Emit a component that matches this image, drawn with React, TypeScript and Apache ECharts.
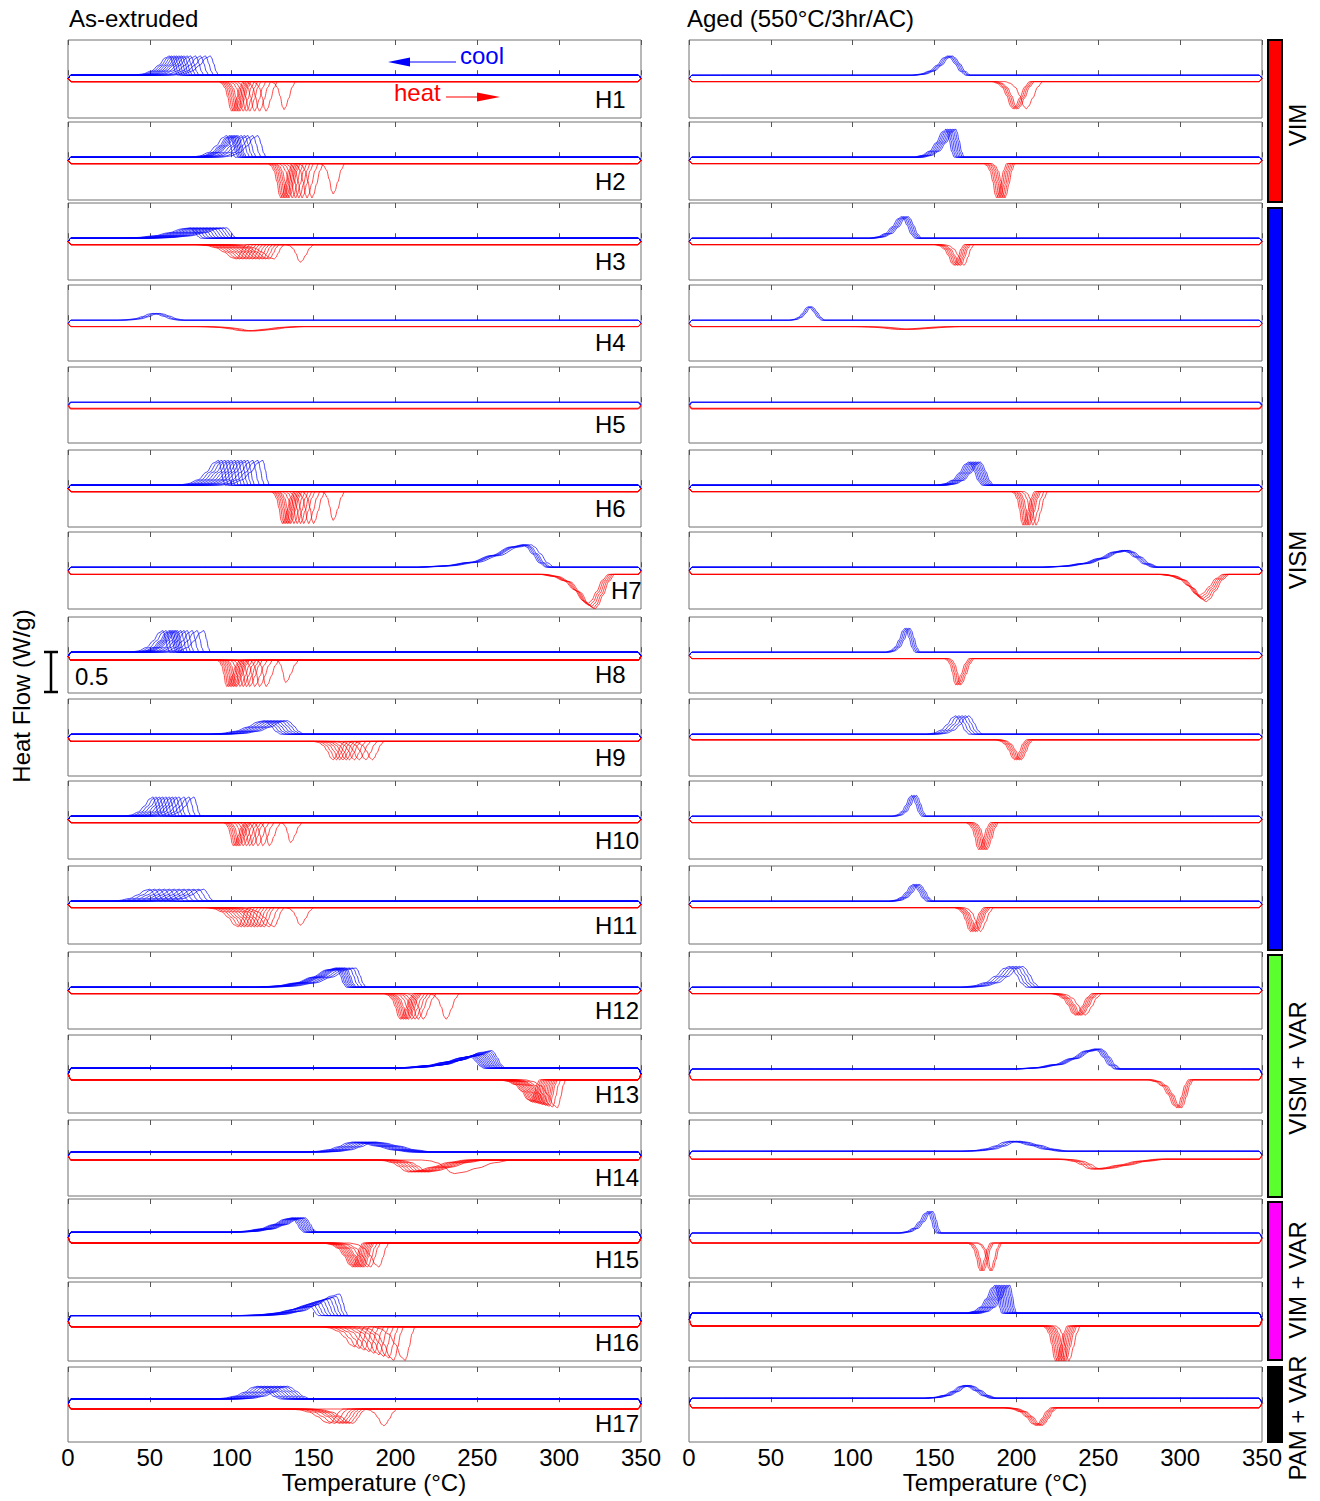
import React, { useEffect, useRef } from "react";
import * as echarts from "echarts";

// ---------------- data ----------------
const SAMPLES = ["H1", "H2", "H3", "H4", "H5", "H6", "H7", "H8", "H9", "H10", "H11", "H12", "H13", "H14", "H15", "H16", "H17"];
const T_MIN = 0;
const T_MAX = 350;
const T_STEP = 50;

// normalised peak profile [fraction of half-width, fraction of peak height]
const PEAK_PROFILE = [[-1, 0], [-0.75, 0.06], [-0.5, 0.22], [-0.3, 0.52], [-0.12, 0.9], [0, 1], [0.15, 0.9], [0.4, 0.6], [0.7, 0.2], [1, 0]];

// ---- As-extruded: cooling (exothermic) peak temperatures per cycle, °C
const EXT_COOL_T = [
  [62, 63.5, 65, 66.5, 68, 69.5, 71, 73, 75, 78, 81, 84, 87],
  [97, 99, 100, 101, 102, 103, 104, 106, 108, 110, 113, 116],
  [75, 77, 79, 81, 83, 85, 87, 89, 91, 93, 95, 97],
  [52, 54, 56],
  [],
  [92, 94, 96, 98, 100, 102, 104, 106, 108, 110, 113, 116, 119],
  [278, 279, 280, 281, 283],
  [58, 60, 62, 63, 64, 65, 66, 67, 69, 71, 73, 76, 79, 83],
  [120, 122, 124, 126, 128, 130, 132, 134],
  [52, 54, 56, 58, 60, 62, 64, 66, 68, 71, 74, 77],
  [50, 53, 56, 59, 62, 65, 68, 71, 74, 77, 80, 83],
  [164, 165, 166, 167, 168, 169, 170, 172, 174, 176],
  [246, 247, 248, 249, 250, 251, 252, 253, 254, 255, 256, 257, 258, 259],
  [174, 176, 178, 180, 182, 184, 186, 188],
  [137, 138, 139, 140, 141, 142, 143, 144, 145],
  [148, 150, 152, 154, 156, 158, 160, 162, 164, 166],
  [116, 118, 120, 122, 124, 126, 128, 130, 132, 134],
];
const EXT_COOL_H = [0.24, 0.27, 0.13, 0.085, 0, 0.31, 0.28, 0.27, 0.17, 0.24, 0.15, 0.24,
  [0.14, 0.145, 0.15, 0.15, 0.155, 0.16, 0.165, 0.17, 0.175, 0.18, 0.19, 0.2, 0.21, 0.22],
  0.125, 0.18,
  [0.12, 0.14, 0.155, 0.17, 0.185, 0.2, 0.21, 0.225, 0.24, 0.27],
  0.16];
const EXT_COOL_WL = [22, 22, 45, 22, 0, 25, 65, 20, 35, 18, 25, 50, 55, 30, 40, 45, 28];
const EXT_COOL_WR = [5, 5, 6, 15, 0, 4, 14, 4, 10, 4, 6, 6, 8, 35, 7, 5, 14];

// ---- As-extruded: heating (endothermic) peak temperatures per cycle, °C
const EXT_HEAT_T = [
  [100, 101, 102, 103, 104, 105, 107, 109, 111, 114, 117, 121, 132],
  [130, 131, 132, 133, 134, 135, 137, 139, 141, 143, 146, 149, 162],
  [103, 105, 107, 109, 111, 113, 115, 117, 119, 121, 123, 126, 142],
  [108, 111, 114],
  [],
  [131, 132, 133, 134, 135, 136, 138, 140, 142, 144, 147, 150, 162],
  [318, 319, 320, 321, 322],
  [97, 98, 99, 100, 101, 102, 103, 105, 107, 109, 111, 114, 117, 121, 133],
  [162, 164, 166, 168, 170, 172, 175, 178, 182, 186],
  [101, 102, 103, 104, 105, 107, 109, 111, 113, 116, 119, 123, 136],
  [104, 106, 108, 110, 112, 114, 116, 118, 120, 123, 126, 142],
  [203, 204, 205, 206, 207, 208, 210, 212, 214, 217, 231],
  [283, 284, 285, 286, 287, 288, 289, 290, 291, 292, 293, 294, 296, 299],
  [208, 210, 212, 214, 216, 218, 220, 236],
  [174, 175, 176, 177, 178, 179, 180, 181, 183, 185, 190],
  [175, 178, 181, 184, 187, 190, 193, 196, 199, 206],
  [160, 163, 166, 168, 170, 172, 174, 193],
];
const EXT_HEAT_D = [
  [0.37, 0.37, 0.37, 0.37, 0.37, 0.37, 0.37, 0.37, 0.37, 0.37, 0.37, 0.37, 0.35],
  [0.43, 0.43, 0.43, 0.43, 0.43, 0.43, 0.43, 0.43, 0.43, 0.43, 0.43, 0.43, 0.38],
  [0.18, 0.18, 0.18, 0.18, 0.18, 0.18, 0.18, 0.18, 0.18, 0.18, 0.18, 0.18, 0.22],
  0.055, 0,
  [0.4, 0.4, 0.4, 0.4, 0.4, 0.4, 0.4, 0.4, 0.4, 0.4, 0.4, 0.4, 0.36],
  [0.36, 0.38, 0.4, 0.42, 0.43],
  [0.33, 0.33, 0.33, 0.33, 0.33, 0.33, 0.33, 0.33, 0.33, 0.33, 0.33, 0.33, 0.33, 0.33, 0.28],
  0.23,
  [0.29, 0.29, 0.29, 0.29, 0.29, 0.29, 0.29, 0.29, 0.29, 0.29, 0.29, 0.29, 0.25],
  [0.24, 0.24, 0.24, 0.24, 0.24, 0.24, 0.24, 0.24, 0.24, 0.24, 0.24, 0.22],
  0.32,
  [0.27, 0.28, 0.28, 0.29, 0.29, 0.3, 0.3, 0.31, 0.31, 0.32, 0.32, 0.33, 0.34, 0.35],
  [0.15, 0.15, 0.15, 0.15, 0.15, 0.15, 0.15, 0.17],
  0.3,
  [0.25, 0.27, 0.29, 0.31, 0.33, 0.35, 0.37, 0.39, 0.42, 0.42],
  [0.18, 0.18, 0.18, 0.18, 0.18, 0.18, 0.18, 0.21],
];
const EXT_HEAT_WL = [8, 8,
  [25, 25, 25, 25, 25, 25, 25, 25, 25, 25, 25, 25, 9],
  30, 0, 7, 30, 6, 12, 6,
  [20, 20, 20, 20, 20, 20, 20, 20, 20, 20, 20, 9],
  10, 20, 20, 18, 20,
  [25, 25, 25, 25, 25, 25, 25, 12]];
const EXT_HEAT_WR = [7, 7, [6, 6, 6, 6, 6, 6, 6, 6, 6, 6, 6, 6, 8], 30, 0, 7, 12, 8, 7, 7,
  [6, 6, 6, 6, 6, 6, 6, 6, 6, 6, 6, 8], 8, 5, 35, 6, 6, 8];

// ---- Aged (550°C/3hr/AC)
const AGED_COOL_T = [
  [158, 159, 160, 161],
  [157, 158, 159, 160, 161, 162, 163],
  [130, 131, 132, 133, 134],
  [73, 74, 75],
  [],
  [171, 172, 173, 174, 175, 176, 177, 178],
  [265, 266, 267, 268, 269],
  [132, 133, 134, 135],
  [163, 165, 167, 169, 171],
  [136, 137, 138, 139],
  [137, 138, 139, 140, 141],
  [196, 198, 200, 202, 204],
  [248, 249, 250, 251, 252],
  [196, 198, 200, 202],
  [146, 147, 148, 149],
  [187, 188, 189, 190, 191, 192, 193, 194, 195, 196],
  [168, 169, 170, 171, 172],
];
const AGED_COOL_H = [0.24, 0.35, 0.27, 0.17, 0, 0.29, 0.21, 0.3, 0.23, 0.26, 0.21, 0.26, 0.25, 0.125, 0.27, 0.35, 0.16];
const AGED_COOL_WL = [22, 20, 20, 12, 0, 20, 50, 12, 18, 12, 15, 30, 50, 30, 18, 18, 25];
const AGED_COOL_WR = [11, 5, 8, 8, 0, 8, 18, 6, 8, 6, 8, 10, 12, 30, 5, 4, 16];

const AGED_HEAT_T = [
  [198, 199, 200, 201, 206],
  [188, 189, 190, 191, 192, 193],
  [162, 163, 164, 165, 166, 168],
  [128, 132, 136],
  [],
  [204, 205, 206, 207, 208, 210, 212],
  [312, 313, 314, 315, 316],
  [163, 164, 165, 166],
  [199, 200, 201, 202, 203],
  [177, 178, 179, 180, 181, 182],
  [172, 173, 174, 175, 176, 178],
  [236, 237, 238, 239, 240, 242],
  [298, 299, 300, 301],
  [246, 248, 250, 252],
  [178, 179, 180, 184, 185],
  [224, 225, 226, 227, 228, 229, 230, 232],
  [212, 213, 214, 215, 216],
];
const AGED_HEAT_D = [0.34, 0.43, 0.26, 0.035, 0, 0.42, [0.26, 0.28, 0.3, 0.32, 0.34], 0.33, 0.25, 0.34, 0.3, 0.27, 0.35, 0.125, 0.35, 0.44, 0.22];
const AGED_HEAT_WL = [13, 8, 12, 30, 0, 7, 25, 7, 12, 8, 10, 15, 18, 22, 8, 8, 20];
const AGED_HEAT_WR = [10, 6, 6, 30, 0, 7, 14, 8, 7, 7, 8, 10, 7, 40, 6, 7, 9];

// baselines (W/g) of cooling and heating curves in each panel
const EXT_COOL_BASE = [0, 0, 0, 0, 0, 0, 0, 0, 0, 0, 0, 0, 0.025, 0.04, 0.025, 0.02, 0.04];
const EXT_HEAT_BASE = [-0.08, -0.08, -0.08, -0.08, -0.08, -0.08, -0.09, -0.1, -0.09, -0.08, -0.08, -0.08, -0.12, -0.06, -0.11, -0.12, -0.085];
const AGED_COOL_BASE = [0, 0, 0, 0, 0, 0, 0, 0, 0, 0, 0, 0, 0.015, 0.05, 0.015, 0.05, 0.05];
const AGED_HEAT_BASE = [-0.08, -0.08, -0.08, -0.08, -0.08, -0.08, -0.09, -0.08, -0.07, -0.08, -0.08, -0.08, -0.12, -0.05, -0.11, -0.11, -0.07];

const GROUPS = ["VIM", "VISM", "VISM + VAR", "VIM + VAR", "PAM + VAR"];
const SCALE_BAR_WG = 0.5;

// ---------------- layout ----------------
const ROW_TOP = [40, 122, 203, 285, 367, 450, 532, 617, 699, 781, 866, 952, 1035, 1120, 1199, 1282, 1367];
const ROW_BOTTOM = [118, 200, 280, 361, 443, 527, 609, 693, 776, 859, 944, 1029, 1113, 1196, 1278, 1361, 1442];
const COL_LEFT = [68, 689];
const PLOT_W = 573;
const PX_PER_WG = 80;
const Y_TOP = 0.44;
const LABEL_X = [595, 595, 595, 595, 595, 595, 611, 595, 595, 595, 595, 595, 595, 595, 595, 595, 595];
const GROUP_BARS = [[40, 202], [208, 950], [955, 1197], [1202, 1360], [1367, 1442]];
const GROUP_COLORS = ["#ff0000", "#0000ff", "#5cff2e", "#ff00ff", "#000000"];
const FONT = "Liberation Sans, Arial, sans-serif";
const FS = 24;

const pick = (v: any, i: number) => (typeof v === "number" ? v : v[i]);

function buildCurve(T: number | null, amp: number, wl: number, wr: number, base: number, mid: number, sign: number) {
  const pts: number[][] = [[0.2, mid], [1.8, base]];
  if (T !== null && amp > 0) {
    for (const [u, f] of PEAK_PROFILE) {
      const x = T + (u < 0 ? u * wl : u * wr);
      pts.push([x, base + sign * amp * f]);
    }
  }
  pts.push([348.2, base], [350, mid]);
  return pts;
}

function App() {
  const ref = useRef<HTMLDivElement>(null);
  useEffect(() => {
    if (!ref.current) return;
    const chart = echarts.init(ref.current, null, { renderer: "svg" });
    const grids: any[] = [];
    const xAxes: any[] = [];
    const yAxes: any[] = [];
    const series: any[] = [];
    const sets = [
      { coolT: EXT_COOL_T, coolH: EXT_COOL_H, coolWL: EXT_COOL_WL, coolWR: EXT_COOL_WR, heatT: EXT_HEAT_T, heatD: EXT_HEAT_D, heatWL: EXT_HEAT_WL, heatWR: EXT_HEAT_WR, cb: EXT_COOL_BASE, hb: EXT_HEAT_BASE },
      { coolT: AGED_COOL_T, coolH: AGED_COOL_H, coolWL: AGED_COOL_WL, coolWR: AGED_COOL_WR, heatT: AGED_HEAT_T, heatD: AGED_HEAT_D, heatWL: AGED_HEAT_WL, heatWR: AGED_HEAT_WR, cb: AGED_COOL_BASE, hb: AGED_HEAT_BASE },
    ];
    let g = 0;
    for (let c = 0; c < 2; c++) {
      const s = sets[c];
      for (let r = 0; r < SAMPLES.length; r++) {
        const h = ROW_BOTTOM[r] - ROW_TOP[r];
        const last = r === SAMPLES.length - 1;
        grids.push({ left: COL_LEFT[c], top: ROW_TOP[r], width: PLOT_W, height: h, show: true, borderColor: "#707070", borderWidth: 1, backgroundColor: "#ffffff" });
        const axBase = {
          gridIndex: g, type: "value", min: T_MIN, max: T_MAX, interval: T_STEP,
          axisLine: { show: false }, splitLine: { show: false },
          axisTick: { show: true, inside: true, length: 5, lineStyle: { color: "#555", width: 1 } },
        };
        xAxes.push({ ...axBase, position: "bottom", axisLabel: { show: last, fontSize: FS, color: "#000", margin: 3, fontFamily: FONT } });
        xAxes.push({ ...axBase, position: "top", axisLabel: { show: false } });
        yAxes.push({ gridIndex: g, type: "value", min: Y_TOP - h / PX_PER_WG, max: Y_TOP, show: false });
        const cb = s.cb[r], hb = s.hb[r], mid = (cb + hb) / 2;
        const empty = s.coolT[r].length === 0;
        const addLine = (data: number[][], color: string) =>
          series.push({
            type: "line", xAxisIndex: 2 * g, yAxisIndex: g, data, symbol: "none", showSymbol: false,
            smooth: 0.35, smoothMonotone: "x", silent: true, clip: true,
            lineStyle: { width: empty ? 1.6 : 0.8, color, opacity: 0.9 },
          });
        const cT = s.coolT[r];
        if (cT.length === 0) addLine(buildCurve(null, 0, 0, 0, cb, mid, 1), "#0000ff");
        cT.forEach((T: number, i: number) =>
          addLine(buildCurve(T, pick(s.coolH[r], i), pick(s.coolWL[r], i), pick(s.coolWR[r], i), cb, mid, 1), "#0000ff"));
        const hT = s.heatT[r];
        if (hT.length === 0) addLine(buildCurve(null, 0, 0, 0, hb, mid, -1), "#ff0000");
        hT.forEach((T: number, i: number) =>
          addLine(buildCurve(T, pick(s.heatD[r], i), pick(s.heatWL[r], i), pick(s.heatWR[r], i), hb, mid, -1), "#ff0000"));
        g++;
      }
    }

    const graphic: any[] = [];
    const txt = (text: string, x: number, y: number, opts: any = {}) =>
      graphic.push({
        type: "text", x, y, rotation: opts.rotation || 0, silent: true, z: 10,
        style: { text, fontSize: opts.fontSize || FS, fontFamily: FONT, fill: opts.color || "#000", textAlign: opts.align || "left", textVerticalAlign: "middle" },
      });
    txt("As-extruded", 69, 18);
    txt("Aged (550°C/3hr/AC)", 687, 18);
    txt("Temperature (°C)", 374, 1482, { align: "center" });
    txt("Temperature (°C)", 995, 1482, { align: "center" });
    txt("Heat Flow (W/g)", 21, 696, { align: "center", rotation: Math.PI / 2 });
    SAMPLES.forEach((name, r) => txt(name, LABEL_X[r], ROW_BOTTOM[r] - 19));
    // scale bar (0.5 W/g)
    const barTop = 652, barBot = barTop + SCALE_BAR_WG * PX_PER_WG;
    const blk = { stroke: "#000", lineWidth: 2.5 };
    graphic.push({ type: "line", shape: { x1: 51, y1: barTop, x2: 51, y2: barBot }, style: blk, silent: true });
    graphic.push({ type: "line", shape: { x1: 44, y1: barTop, x2: 58, y2: barTop }, style: blk, silent: true });
    graphic.push({ type: "line", shape: { x1: 44, y1: barBot, x2: 58, y2: barBot }, style: blk, silent: true });
    txt(String(SCALE_BAR_WG), 75, 676);
    // cool / heat annotations
    txt("cool", 460, 55, { color: "#0000ff" });
    graphic.push({ type: "line", shape: { x1: 456, y1: 62, x2: 405, y2: 62 }, style: { stroke: "#0000ff", lineWidth: 1.2 }, silent: true });
    graphic.push({ type: "polygon", shape: { points: [[388, 62], [410, 57.5], [410, 66.5]] }, style: { fill: "#0000ff" }, silent: true });
    txt("heat", 394, 92, { color: "#ff0000" });
    graphic.push({ type: "line", shape: { x1: 446, y1: 97, x2: 482, y2: 97 }, style: { stroke: "#ff0000", lineWidth: 1.2 }, silent: true });
    graphic.push({ type: "polygon", shape: { points: [[500, 97], [477, 92.5], [477, 101.5]] }, style: { fill: "#ff0000" }, silent: true });
    // group bars
    GROUP_BARS.forEach(([y0, y1], k) => {
      graphic.push({ type: "rect", shape: { x: 1268, y: y0, width: 14, height: y1 - y0 }, style: { fill: GROUP_COLORS[k], stroke: "#000", lineWidth: 2 }, silent: true });
    });
    const labelCenters = [125, 560, 1068, 1280, 1418];
    GROUPS.forEach((name, k) => txt(name, 1297, labelCenters[k], { align: "center", rotation: Math.PI / 2 }));

    chart.setOption({
      animation: false,
      backgroundColor: "#ffffff",
      grid: grids,
      xAxis: xAxes,
      yAxis: yAxes,
      series,
      graphic,
    });
    return () => chart.dispose();
  }, []);
  return <div ref={ref} style={{ position: "absolute", left: 0, top: 0, width: 1320, height: 1501 }} />;
}

export default App;
